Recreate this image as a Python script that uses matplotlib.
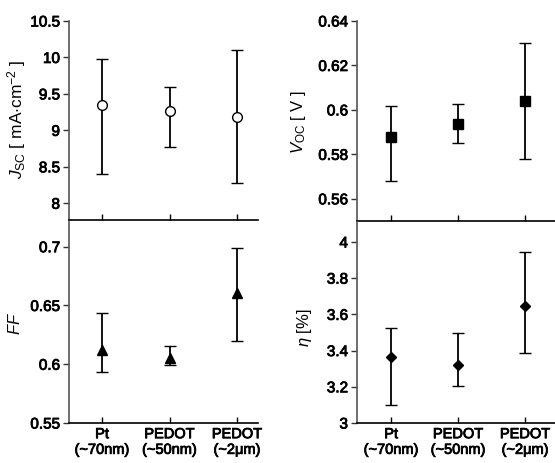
import matplotlib
matplotlib.use("Agg")
import matplotlib.pyplot as plt
import matplotlib.patheffects as pe
import numpy as np

plt.rcParams['font.family'] = ['Liberation Sans', 'DejaVu Sans']
plt.rcParams['mathtext.fontset'] = 'custom'
plt.rcParams['mathtext.rm'] = 'Liberation Sans'
plt.rcParams['mathtext.it'] = 'Liberation Sans:italic'

categories = ["Pt\n(~70nm)", "PEDOT\n(~50nm)", "PEDOT\n(~2\u03bcm)"]

jsc = [9.35, 9.26, 9.18]
jsc_hi = [9.98, 9.60, 10.10]
jsc_lo = [8.40, 8.77, 8.28]

voc = [0.5877, 0.5936, 0.6039]
voc_hi = [0.6018, 0.6027, 0.6302]
voc_lo = [0.5678, 0.5849, 0.5778]

ff = [0.6122, 0.6051, 0.6606]
ff_hi = [0.6433, 0.6158, 0.6986]
ff_lo = [0.5932, 0.5994, 0.6198]

eta = [3.362, 3.322, 3.647]
eta_hi = [3.524, 3.498, 3.945]
eta_lo = [3.101, 3.202, 3.386]

W, H = 555, 464
fig = plt.figure(figsize=(W / 100, H / 100), dpi=100)
thick = [pe.withStroke(linewidth=0.6, foreground='black')]


def ax_px(x0, x1, ytop, ybot):
    return fig.add_axes([x0 / W, (H - ybot) / H, (x1 - x0) / W, (ybot - ytop) / H])


ax_j = ax_px(69, 258, 22, 221)
ax_v = ax_px(357, 556, 22, 222)
ax_f = ax_px(69, 258, 223, 424)
ax_e = ax_px(357, 556, 223, 424)

x = np.arange(1, len(categories) + 1)


def draw(ax, vals, hi, lo, marker, mfc, ms):
    v = np.array(vals)
    yerr = [v - np.array(lo), np.array(hi) - v]
    ax.errorbar(x, v, yerr=yerr, fmt=marker, color='black', mfc=mfc, mec='black',
                ms=ms, ecolor='black', elinewidth=1.3, capsize=4.5, capthick=1.3,
                mew=1.0, zorder=3)


draw(ax_j, jsc, jsc_hi, jsc_lo, 'o', 'white', 7)
draw(ax_v, voc, voc_hi, voc_lo, 's', 'black', 7)
draw(ax_f, ff, ff_hi, ff_lo, '^', 'black', 7)
draw(ax_e, eta, eta_hi, eta_lo, 'D', 'black', 5.5)

ax_j.set_ylim(7.77, 10.5)
ax_j.set_yticks([8, 8.5, 9, 9.5, 10, 10.5])
ax_j.set_yticklabels(['8', '8.5', '9', '9.5', '10', '10.5'])
ax_v.set_ylim(0.55, 0.64)
ax_v.set_yticks([0.56, 0.58, 0.6, 0.62, 0.64])
ax_v.set_yticklabels(['0.56', '0.58', '0.6', '0.62', '0.64'])
ax_f.set_ylim(0.55, 0.721)
ax_f.set_yticks([0.55, 0.6, 0.65, 0.7])
ax_f.set_yticklabels(['0.55', '0.6', '0.65', '0.7'])
ax_e.set_ylim(3.0, 4.11)
ax_e.set_yticks([3, 3.2, 3.4, 3.6, 3.8, 4])
ax_e.set_yticklabels(['3', '3.2', '3.4', '3.6', '3.8', '4'])

for ax in (ax_j, ax_f):
    ax.set_xlim(0.51, 3.31)
for ax in (ax_v, ax_e):
    ax.set_xlim(0.49, 3.46)

for ax in (ax_j, ax_v, ax_f, ax_e):
    ax.set_xticks(x)
    ax.spines['top'].set_visible(False)
    ax.spines['right'].set_visible(False)
    ax.spines['left'].set_color('#555555')
    ax.spines['left'].set_linewidth(1.2)
    ax.spines['bottom'].set_linewidth(1.2)
    ax.tick_params(axis='y', direction='out', length=4, width=1.0, labelsize=11,
                   pad=2.5, color='#333333')
    ax.tick_params(axis='x', direction='in', length=4, width=1.0, labelsize=10.5,
                   pad=3)

for ax in (ax_j, ax_v):
    ax.set_xticklabels([])
for ax in (ax_f, ax_e):
    ax.set_xticklabels(categories, linespacing=1.15)

ax_j.set_ylabel(r'$J_{\rm SC}$ [ mA$\cdot$cm$^{-2}$ ]', fontsize=12.5)
ax_v.set_ylabel(r'$V_{\rm OC}$ [ V ]', fontsize=12)
ax_f.set_ylabel(r'$FF$', fontsize=12)
ax_e.set_ylabel(r'$\eta$ [%]', fontsize=12)

ax_j.yaxis.set_label_coords(-0.217, 0.51)
ax_v.yaxis.set_label_coords(-0.246, 0.5)
ax_f.yaxis.set_label_coords(-0.243, 0.5)
ax_e.yaxis.set_label_coords(-0.216, 0.48)

for ax in (ax_j, ax_v, ax_f, ax_e):
    for t in ax.get_yticklabels() + ax.get_xticklabels():
        t.set_path_effects(thick)

fig.savefig('out.png', dpi=100)
